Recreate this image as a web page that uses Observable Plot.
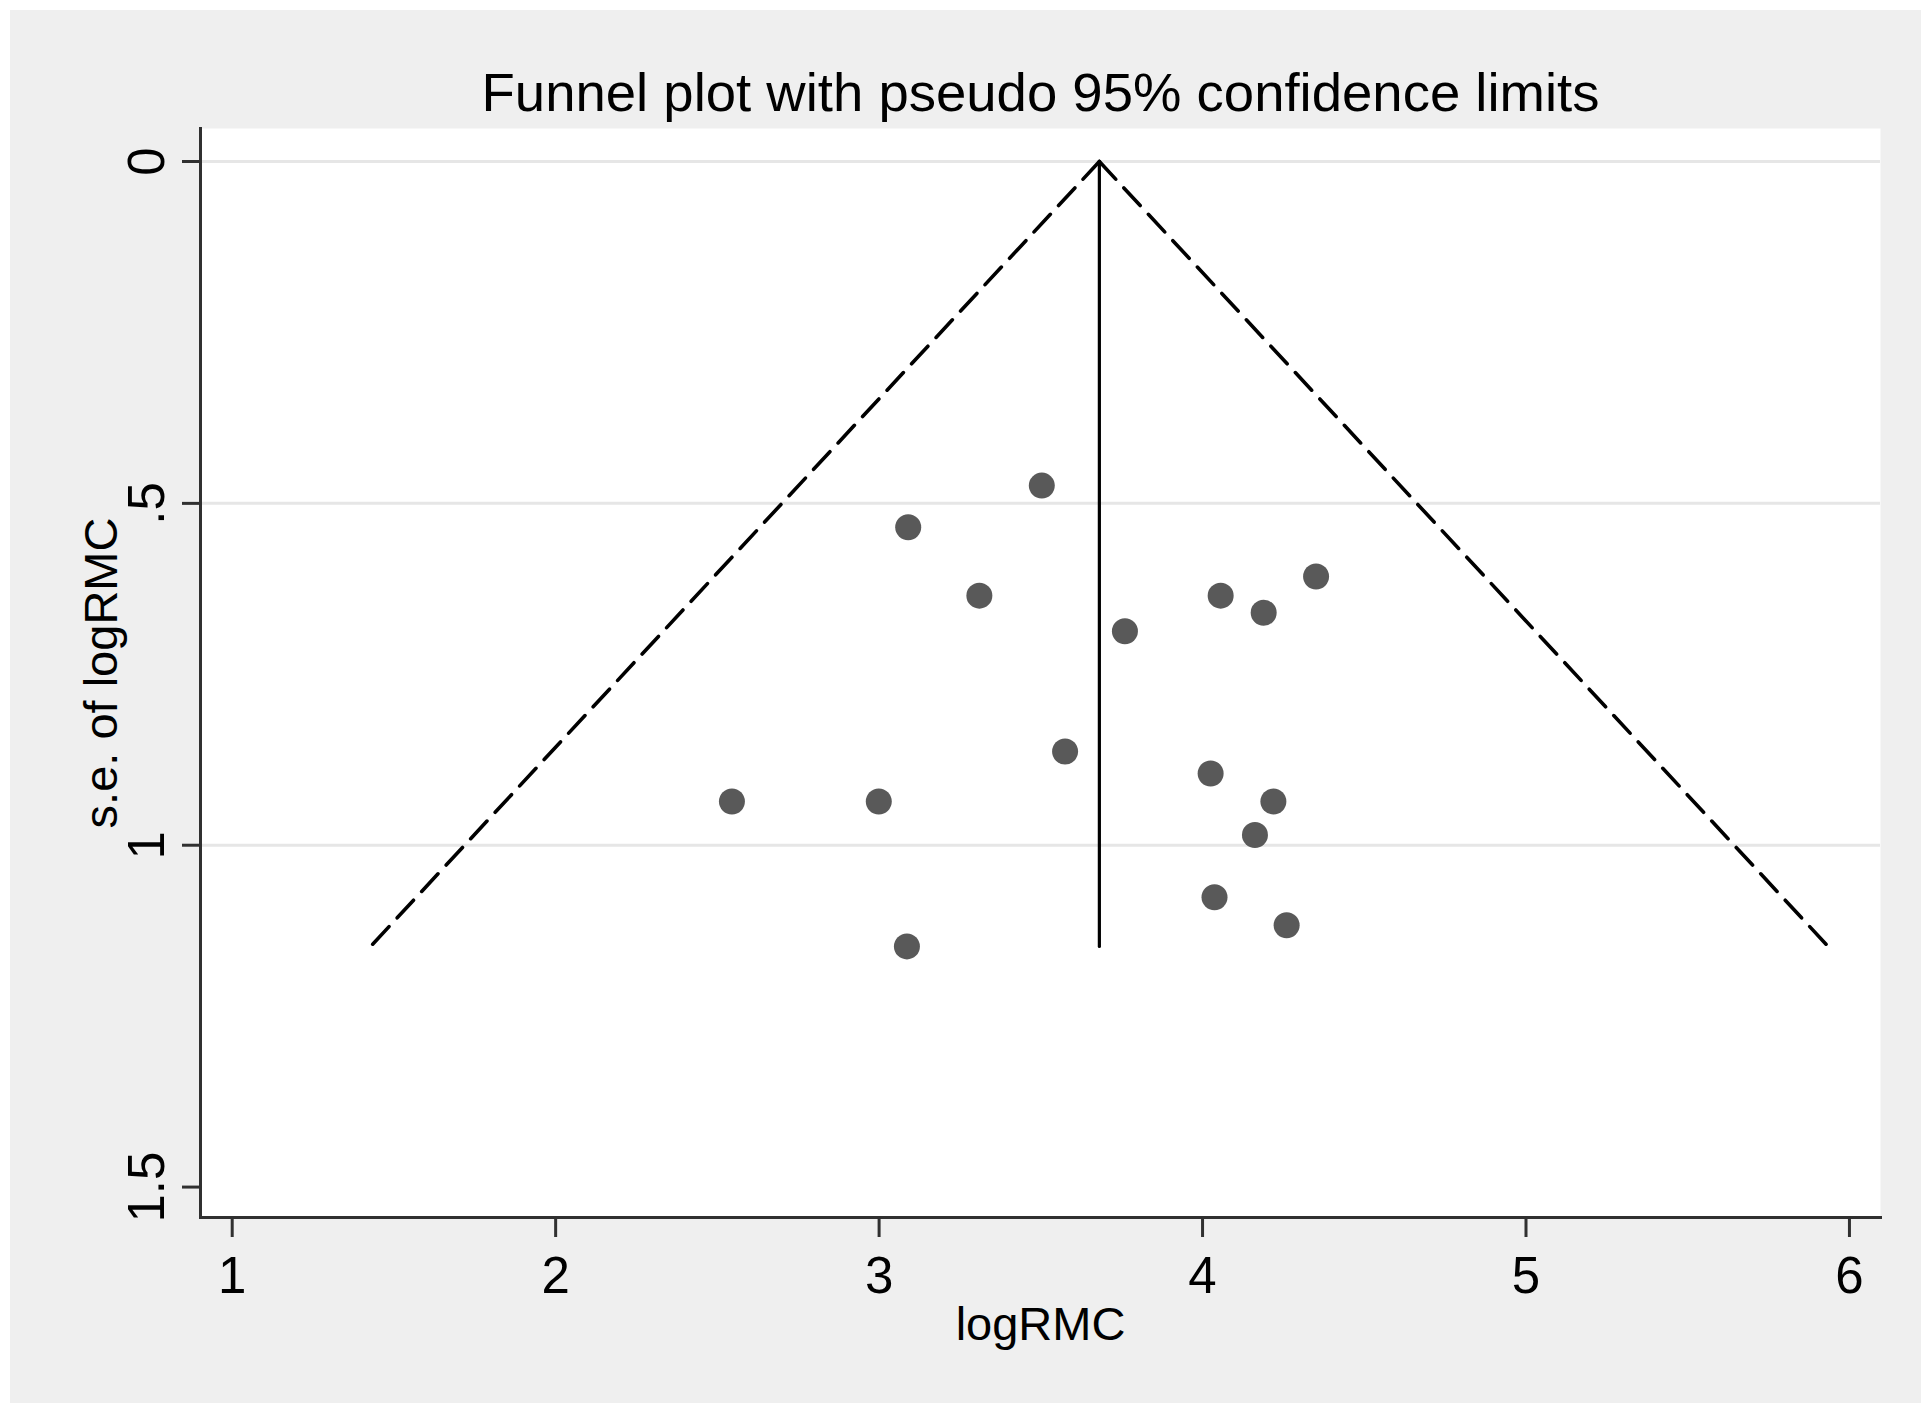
<!DOCTYPE html>
<html>
<head>
<meta charset="utf-8">
<script src="https://cdn.jsdelivr.net/npm/d3@7"></script>
<script src="https://cdn.jsdelivr.net/npm/@observablehq/plot@0.6"></script>
<style>
  html, body { margin: 0; padding: 0; background: #ffffff; }
  #chart { position: absolute; left: 10px; top: 10px; }
</style>
</head>
<body>
<div id="chart"></div>
<script>
// ---- Texts ----
const titleText = "Funnel plot with pseudo 95% confidence limits";
const xTitle = "logRMC";
const yTitle = "s.e. of logRMC";

// ---- Ticks ----
const xTicks = [1, 2, 3, 4, 5, 6];
const xTickLabels = ["1", "2", "3", "4", "5", "6"];
const yTicks = [0, 0.5, 1, 1.5];
const yTickLabels = ["0", ".5", "1", "1.5"];
const gridValues = [0, 0.5, 1];

// ---- Studies ----
const logRMC   = [3.503, 3.090, 3.310, 3.760, 4.056, 4.189, 4.351, 3.575, 4.025, 2.545, 2.999, 4.219, 4.162, 4.037, 4.260, 3.086];
const seLogRMC = [0.474, 0.535, 0.635, 0.687, 0.635, 0.660, 0.607, 0.863, 0.895, 0.936, 0.936, 0.936, 0.985, 1.076, 1.117, 1.148];

// ---- Pooled estimate line and pseudo 95% limits ----
const pooledX = [3.681, 3.681];
const pooledSe = [0, 1.148];
const lowerLimitX = [3.681, 1.428];
const upperLimitX = [3.681, 5.934];
const limitSe = [0, 1.148];

const points = logRMC.map((x, i) => ({x, se: seLogRMC[i]}));
const pooled = pooledX.map((x, i) => ({x, se: pooledSe[i]}));
const lower = lowerLimitX.map((x, i) => ({x, se: limitSe[i]}));
const upper = upperLimitX.map((x, i) => ({x, se: limitSe[i]}));

const font = "'Liberation Sans', Arial, Helvetica, sans-serif";
const axisColor = "#303030";

const chart = Plot.plot({
  width: 1911,
  height: 1393,
  marginLeft: 190,
  marginRight: 41,
  marginTop: 118,
  marginBottom: 186,
  style: { background: "#efefef", fontFamily: font, color: "#000" },
  x: { domain: [0.902, 6.096], label: null },
  y: { domain: [-0.0483, 1.5445], reverse: true, label: null },
  marks: [
    Plot.frame({ fill: "white", stroke: "none" }),
    Plot.ruleY(gridValues, { stroke: "#e6e6e6", strokeWidth: 3 }),
    Plot.line(lower, { x: "x", y: "se", stroke: "#000", strokeWidth: 3.6, strokeDasharray: "24,12" }),
    Plot.line(upper, { x: "x", y: "se", stroke: "#000", strokeWidth: 3.6, strokeDasharray: "24,12" }),
    Plot.line(pooled, { x: "x", y: "se", stroke: "#000", strokeWidth: 3.2 }),
    Plot.dot(points, { x: "x", y: "se", r: 13, fill: "#595959", stroke: "none" }),
    Plot.frame({ anchor: "left", stroke: axisColor, strokeWidth: 3 }),
    Plot.frame({ anchor: "bottom", stroke: axisColor, strokeWidth: 3 }),
    Plot.axisX({
      ticks: xTicks,
      tickFormat: d => xTickLabels[xTicks.indexOf(d)],
      tickSize: 20,
      tickPadding: 19,
      fontSize: 51,
      stroke: axisColor,
      strokeWidth: 3,
      fill: "#000",
      label: null
    }),
    Plot.axisY({
      ticks: yTicks,
      tickFormat: () => "",
      tickSize: 18,
      stroke: axisColor,
      strokeWidth: 3,
      label: null
    }),
    Plot.text(yTicks, {
      y: d => d,
      text: (d, i) => yTickLabels[i],
      frameAnchor: "left",
      rotate: -90,
      dx: -37,
      lineAnchor: "bottom",
      textAnchor: "middle",
      fontSize: 51,
      fill: "#000"
    }),
    Plot.text([xTitle], {
      text: d => d,
      frameAnchor: "bottom",
      lineAnchor: "bottom",
      dy: 122,
      fontSize: 47,
      fill: "#000"
    }),
    Plot.text([yTitle], {
      text: d => d,
      frameAnchor: "left",
      rotate: -90,
      dx: -84,
      lineAnchor: "bottom",
      textAnchor: "middle",
      fontSize: 47,
      fill: "#000"
    }),
    Plot.text([titleText], {
      text: d => d,
      frameAnchor: "top",
      lineAnchor: "bottom",
      dy: -18,
      fontSize: 54.5,
      fill: "#000"
    })
  ]
});

document.getElementById("chart").appendChild(chart);
</script>
</body>
</html>
